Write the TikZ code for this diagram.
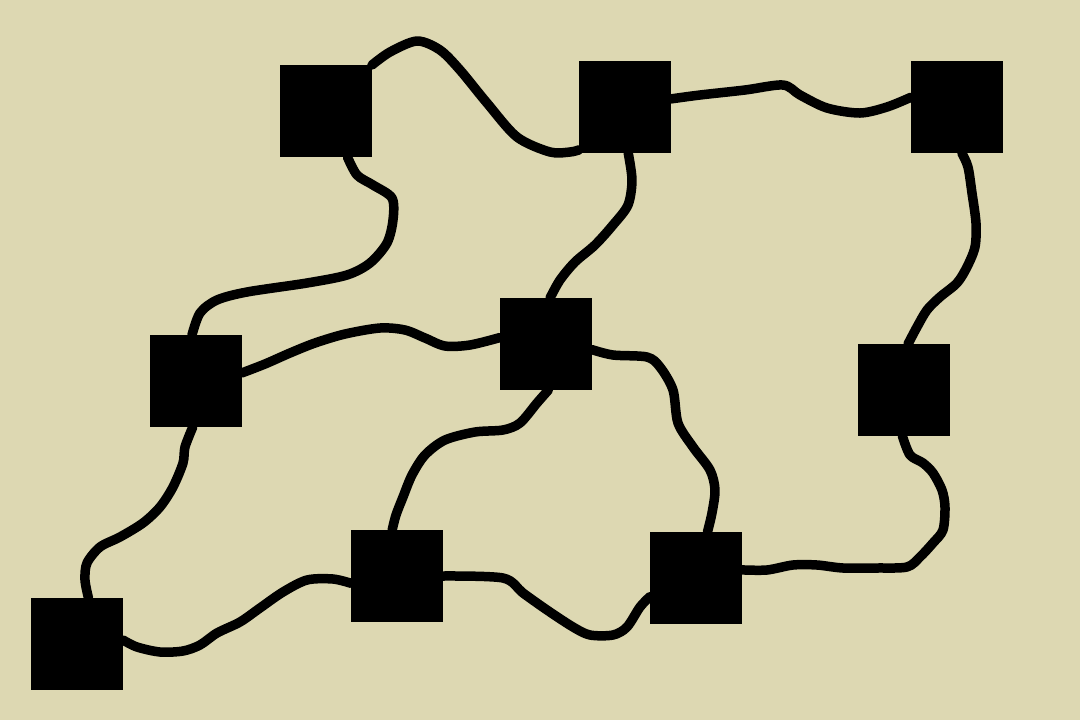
\documentclass[tikz,border=0pt]{standalone}
\definecolor{bgbeige}{RGB}{221,216,178}
\begin{document}
\begin{tikzpicture}[x=0.1mm,y=-0.1mm,
  box/.style={rectangle,fill=black,minimum size=9.2mm,inner sep=0pt,outer sep=0pt},
  wire/.style={line width=0.95mm,line cap=round,line join=round,black}]
\fill[bgbeige] (0,0) rectangle (1080,720);
\useasboundingbox (0,0) rectangle (1080,720);
\node[box] (A) at (326,111) {};
\node[box] (B) at (625,107) {};
\node[box] (C) at (957,107) {};
\node[box] (D) at (196,381) {};
\node[box] (E) at (546,344) {};
\node[box] (F) at (904,390) {};
\node[box] (G) at (397,576) {};
\node[box] (H) at (696,578) {};
\node[box] (I) at (77,644) {};
% A - B
\draw[wire] plot[smooth] coordinates {(A.north east) (390,52) (417,41) (440,50) (460,70) (487,103) (517,137) (550,152) (570,152) (B.-137)};
% B - C
\draw[wire] plot[smooth] coordinates {(B.10) (700,95) (745,90) (783,85) (800,95) (827,108) (860,113) (887,107) (C.168)};
% A - D
\draw[wire] plot[smooth] coordinates {(A.-65) (357,175) (373,185) (392,198) (393,220) (387,243) (370,263) (347,275) (307,283) (247,292) (217,300) (200,313) (D.95)};
% B - E
\draw[wire] plot[smooth] coordinates {(B.-86) (632,180) (628,205) (613,225) (595,245) (575,262) (560,280) (E.85)};
% C - F
\draw[wire] plot[smooth] coordinates {(C.-84) (968,167) (972,193) (976,223) (975,247) (967,267) (957,283) (940,297) (927,310) (917,327) (F.85)};
% D - E
\draw[wire] plot[smooth] coordinates {(D.10) (265,364) (290,353) (315,343) (345,334) (380,328) (405,330) (425,338) (445,346) (470,345) (E.172)};
% E - H
\draw[wire] plot[smooth] coordinates {(E.-7) (613,355) (647,357) (660,367) (673,390) (678,423) (693,447) (710,470) (715,490) (712,513) (H.76)};
% E - G
\draw[wire] plot[smooth] coordinates {(E.-87) (537,403) (520,423) (503,430) (475,432) (445,440) (425,455) (412,475) (403,497) (396,515) (G.96)};
% D - I
\draw[wire] plot[smooth] coordinates {(D.-94) (185,447) (183,463) (173,487) (160,507) (143,523) (120,537) (100,547) (87,563) (85,580) (I.76)};
% I - G
\draw[wire] plot[smooth] coordinates {(I.5) (137,647) (160,652) (183,651) (200,645) (217,633) (240,622) (260,608) (283,592) (307,580) (333,579) (G.-171)};
% G - H
\draw[wire] plot[smooth] coordinates {(G.east) (503,578) (523,593) (547,610) (573,627) (590,635) (613,635) (627,627) (640,607) (H.-158)};
% H - F
\draw[wire] plot[smooth] coordinates {(H.10) (767,570) (793,565) (817,565) (843,568) (877,568) (907,567) (920,557) (933,543) (943,530) (945,507) (942,490) (933,473) (923,463) (910,455) (F.-92)};
\end{tikzpicture}
\end{document}
